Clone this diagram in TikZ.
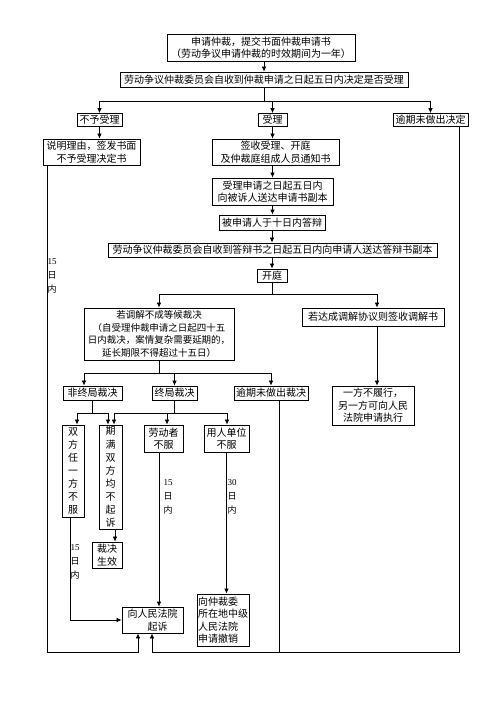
\documentclass[tikz,border=0pt]{standalone}
\usepackage{fontspec}
\setmainfont{Liberation Serif}
\newfontfamily\cjk{Noto Sans CJK SC}
\usetikzlibrary{arrows.meta}
\begin{document}
\begin{tikzpicture}[x=1pt,y=-1pt,
  box/.style={draw, line width=0.9pt, inner sep=0.5pt, align=center, font=\cjk\fontsize{10}{12.5}\selectfont},
  vbox/.style={box, font=\cjk\fontsize{10}{13.1}\selectfont},
  lab/.style={inner sep=0pt, align=center, font=\cjk\fontsize{9}{14}\selectfont},
  ln/.style={line width=0.7pt},
  arr/.style={line width=0.7pt, -{Latex[length=5pt,width=4.5pt]}}]
\useasboundingbox (0,0) rectangle (496,702);
% nodes
\node[box, minimum width=188, minimum height=27] (b1) at (261,47.5) {申请仲裁，提交书面仲裁申请书\\（劳动争议申请仲裁的时效期间为一年）};
\node[box, minimum width=288, minimum height=15] (b2) at (264,79.5) {劳动争议仲裁委员会自收到仲裁申请之日起五日内决定是否受理};
\node[box, minimum width=45, minimum height=13] (n1) at (99.5,120) {不予受理};
\node[box, minimum width=29, minimum height=13] (n2) at (272.5,120) {受理};
\node[box, minimum width=75, minimum height=13] (n3) at (430.5,120) {逾期未做出决定};
\node[box, minimum width=97, minimum height=26] (n4) at (91.5,152) {说明理由，签发书面\\不予受理决定书};
\node[box, minimum width=127, minimum height=26] (n5) at (275.5,152) {签收受理、开庭\\及仲裁庭组成人员通知书};
\node[box, minimum width=121, minimum height=27] (n6) at (272.5,191.5) {受理申请之日起五日内\\向被诉人送达申请书副本};
\node[box, minimum width=106, minimum height=15] (n7) at (272,222.5) {被申请人于十日内答辩};
\node[box, minimum width=329, minimum height=14] (n8) at (272.5,250) {劳动争议仲裁委员会自收到答辩书之日起五日内向申请人送达答辩书副本};
\node[box, minimum width=30, minimum height=13] (n9) at (272,275.5) {开庭};
\node[box, minimum width=150, minimum height=52, font=\cjk\fontsize{9.5}{12.5}\selectfont] (n10) at (159,334) {若调解不成等候裁决\\（自受理仲裁申请之日起四十五\\日内裁决，案情复杂需要延期的，\\延长期限不得超过十五日）};
\node[box, minimum width=142, minimum height=18] (n11) at (373,317) {若达成调解协议则签收调解书};
\node[box, minimum width=59, minimum height=14] (n12) at (92.5,393) {非终局裁决};
\node[box, minimum width=45, minimum height=14] (n13) at (174.5,393) {终局裁决};
\node[box, minimum width=74, minimum height=14] (n14) at (271,393) {逾期未做出裁决};
\node[box, minimum width=82, minimum height=39] (n15) at (373,405.5) {一方不履行，\\另一方可向人民\\法院申请执行};
\node[vbox, minimum width=22, minimum height=92] (n16) at (73,471) {双\\方\\任\\一\\方\\不\\服};
\node[vbox, minimum width=23, minimum height=104] (n17) at (110.5,477) {期\\满\\双\\方\\均\\不\\起\\诉};
\node[box, minimum width=39, minimum height=27] (n18) at (163.5,438.5) {劳动者\\不服};
\node[box, minimum width=45, minimum height=27] (n19) at (226.5,438.5) {用人单位\\不服};
\node[box, minimum width=30, minimum height=26, align=left] (n20) at (107,555) {裁决\\生效};
\node[box, minimum width=61, minimum height=26, align=left] (n21) at (152.5,620) {向人民法院\\\hspace*{2em}起诉};
\node[box, minimum width=52, minimum height=52, align=left] (n22) at (223,620) {向仲裁委\\所在地中级\\人民法院\\申请撤销};
% coordinates
\coordinate (j1) at (264,101);
\coordinate (j2) at (272,294);
\coordinate (a11) at (377,294);
\coordinate (j3) at (159,373);
\coordinate (a12) at (84,373);
\coordinate (j4) at (92,413);
\coordinate (p16) at (77,413);
\coordinate (p17a) at (108,413);
\coordinate (p17b) at (114,413);
\coordinate (p18) at (167,413);
\coordinate (p19) at (227,413);
\coordinate (p20) at (115,529);
\coordinate (c1) at (70,620);
\coordinate (c2) at (159,452);
\coordinate (c3) at (47,652);
\coordinate (c4) at (138,652);
\coordinate (c5) at (459,652);
\coordinate (c6) at (152,652);
\coordinate (c7) at (279,652);
% connectors
\draw[arr] (b1.south -| b2.north) -- (b2.north);
\draw[ln] (b2.south) -- (j1);
\draw[arr] (j1) -| (n1.north);
\draw[arr] (j1) -| (n3.north);
\draw[arr] (j1 -| n2.north) -- (n2.north);
\draw[arr] (n1.south) -- (n1.south |- n4.north);
\draw[arr] (n2.south) -- (n2.south |- n5.north);
\draw[arr] (n6.north |- n5.south) -- (n6.north);
\draw[arr] (n6.south) -- (n6.south |- n7.north);
\draw[arr] (n7.south) -- (n7.south |- n8.north);
\draw[arr] (n9.north |- n8.south) -- (n9.north);
\draw[ln] (n9.south) -- (j2);
\draw[arr] (j2) -| (n10.north);
\draw[arr] (j2) -- (a11) -- (a11 |- n11.north);
\draw[arr] (a11 |- n11.south) -- (a11 |- n15.north);
\draw[ln] (n10.south) -- (j3);
\draw[arr] (j3) -- (a12) -- (a12 |- n12.north);
\draw[arr] (j3) -| (n13.north);
\draw[arr] (j3) -| (n14.north);
\draw[ln] (j4 |- n12.south) -- (j4);
\draw[ln] (p16) -- (p17a);
\draw[arr] (p16) -- (p16 |- n16.north);
\draw[arr] (p17a) -- (p17a |- n17.north);
\draw[ln] (n13.south) -- (n13.south |- p18);
\draw[ln] (p17b) -- (p19);
\draw[arr] (p17b) -- (p17b |- n17.north);
\draw[arr] (p18) -- (p18 |- n18.north);
\draw[arr] (p19) -- (p19 |- n19.north);
\draw[arr] (p20) -- (p20 |- n20.north);
\draw[arr] (c1 |- n16.south) -- (c1) -- (n21.west);
\draw[arr] (c2) -- (c2 |- n21.north);
\draw[arr] (n19.south) -- (n19.south |- n22.north);
\draw[arr] (c3 |- n4.south) -- (c3) -- (c4) -- (c4 |- n21.south);
\draw[arr] (c5 |- n3.south) -- (c5) -- (c6) -- (c6 |- n21.south);
\draw[ln] (c7 |- n14.south) -- (c7);
% labels
\node[lab, fill=white] (l1) at (52,276) {{\rmfamily 15}\\日\\内};
\node[lab] (l2) at (75,562) {{\rmfamily 15}\\日\\内};
\node[lab] (l3) at (168,497) {{\rmfamily 15}\\日\\内};
\node[lab] (l4) at (232,497) {{\rmfamily 30}\\日\\内};
\end{tikzpicture}
\end{document}
